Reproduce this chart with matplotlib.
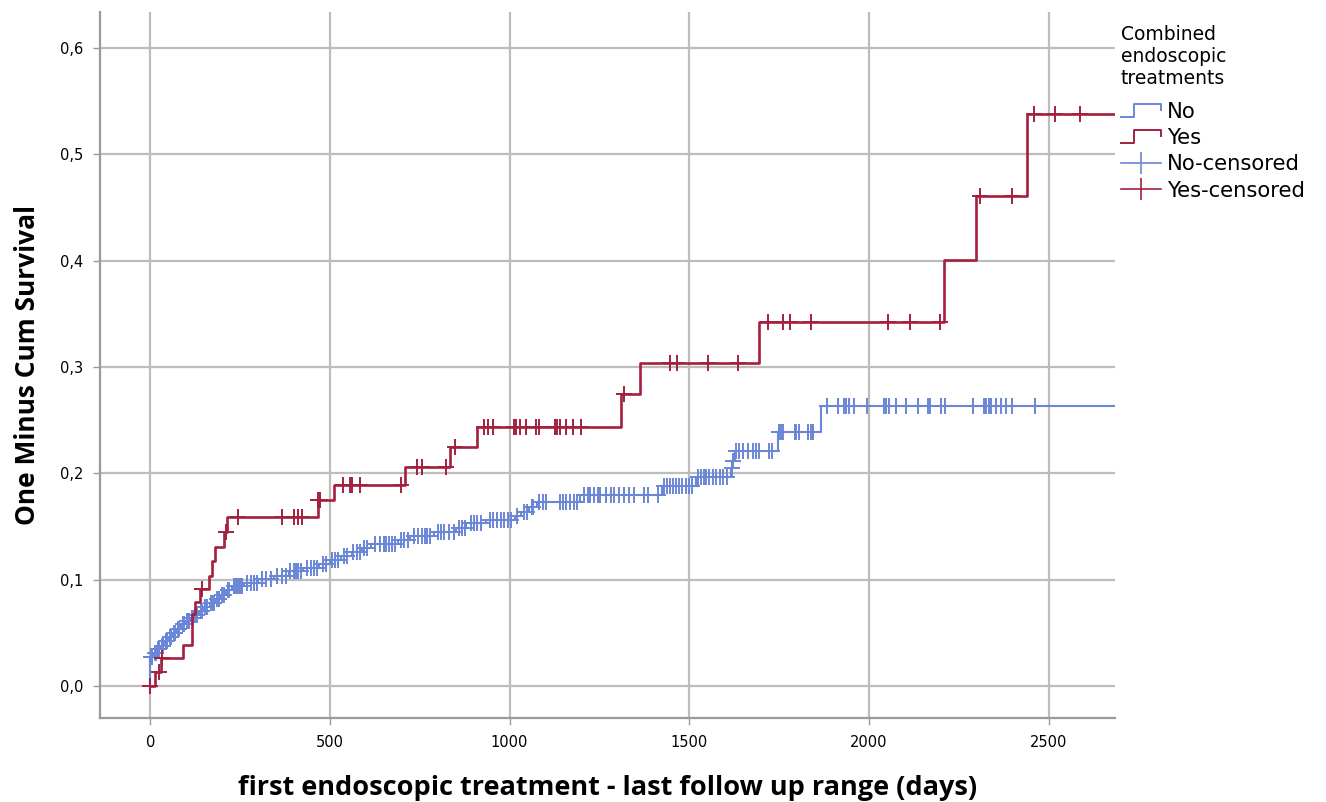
import matplotlib
matplotlib.use("Agg")
import matplotlib.pyplot as plt
from matplotlib.legend_handler import HandlerBase
from matplotlib.lines import Line2D
import numpy as np

BLUE = "#6a86d6"
RED = "#a3203e"
GRID = "#bdbdbd"

FOLLOW_UP_END = 2685

# "No" group: event days and cumulative incidence after each event
NO_EVENT_DAYS = [0, 8, 18, 28, 38, 50, 62, 74, 86, 98, 110, 122, 136, 150, 165,
                 180, 195, 210, 228, 262, 300, 345, 385, 425, 470, 500, 530, 560,
                 590, 615, 690, 722, 790, 850, 880, 935, 1015, 1032, 1055, 1075,
                 1195, 1425, 1518, 1616, 1620, 1626, 1746, 1866]
NO_LEVELS = [0.027, 0.031, 0.035, 0.038, 0.042, 0.046, 0.050, 0.054, 0.058, 0.061,
             0.064, 0.067, 0.071, 0.074, 0.078, 0.082, 0.086, 0.090, 0.094, 0.097,
             0.101, 0.104, 0.108, 0.111, 0.115, 0.119, 0.122, 0.126, 0.130, 0.134,
             0.137, 0.141, 0.145, 0.149, 0.153, 0.156, 0.160, 0.164, 0.168, 0.173,
             0.180, 0.188, 0.197, 0.205, 0.212, 0.221, 0.239, 0.263]
NO_CENSORED_DAYS = [
    2, 5, 12, 15, 22, 25, 33, 36, 44, 47, 55, 58, 66, 70, 77, 81, 90, 94, 103, 107,
    116, 120, 125, 130, 140, 144, 153, 158, 168, 172, 177, 185, 192, 200, 205, 215,
    220, 232, 238, 244, 250, 256, 270, 280, 288, 296, 310, 322, 335, 352, 366, 378,
    390, 399, 405, 412, 420, 437, 446, 455, 463, 480, 490, 505, 514, 522, 540, 548,
    565, 575, 585, 595, 604, 625, 640, 650, 657, 665, 672, 680, 697, 706, 716, 735,
    745, 755, 765, 771, 778, 800, 808, 818, 830, 845, 860, 868, 876, 892, 901, 910,
    920, 945, 955, 965, 975, 985, 995, 1005, 1022, 1040, 1048, 1062, 1066, 1083,
    1092, 1100, 1141, 1150, 1158, 1168, 1178, 1188, 1206, 1217, 1225, 1234, 1245,
    1253, 1267, 1281, 1290, 1304, 1318, 1332, 1346, 1374, 1385, 1413, 1430, 1438,
    1446, 1455, 1463, 1472, 1480, 1490, 1500, 1508, 1525, 1533, 1540, 1548, 1556,
    1565, 1575, 1585, 1595, 1605, 1618, 1623, 1630, 1638, 1649, 1663, 1677, 1685,
    1694, 1722, 1730, 1750, 1755, 1760, 1793, 1798, 1805, 1831, 1838, 1845, 1884,
    1913, 1930, 1937, 1946, 1958, 1995, 2041, 2048, 2057, 2076, 2102, 2138, 2165,
    2169, 2200, 2211, 2290, 2321, 2327, 2334, 2341, 2355, 2369, 2383, 2397, 2461]

# "Yes" group
YES_EVENT_DAYS = [13, 30, 92, 117, 125, 139, 162, 171, 181, 205, 213, 466, 512,
                  708, 833, 908, 1310, 1362, 1693, 2209, 2299, 2440]
YES_LEVELS = [0.013, 0.026, 0.039, 0.068, 0.079, 0.091, 0.104, 0.118, 0.131, 0.145,
              0.159, 0.175, 0.189, 0.206, 0.2245, 0.244, 0.275, 0.304, 0.342,
              0.401, 0.461, 0.538]
YES_CENSORED_DAYS = [0, 24, 32, 144, 211, 245, 367, 400, 411, 422, 467, 472, 537,
                     556, 561, 584, 697, 741, 755, 824, 847, 930, 939, 953, 1011,
                     1017, 1030, 1046, 1074, 1081, 1125, 1131, 1141, 1157, 1176,
                     1199, 1319, 1447, 1466, 1553, 1636, 1720, 1760, 1781, 1839,
                     2054, 2115, 2197, 2310, 2398, 2459, 2519, 2587]

X_TICKS = [0, 500, 1000, 1500, 2000, 2500]
Y_TICKS = [0.0, 0.1, 0.2, 0.3, 0.4, 0.5, 0.6]


def step_curve(days, levels):
    xs = [0] + list(days) + [FOLLOW_UP_END]
    ys = [0.0] + list(levels) + [levels[-1]]
    return xs, ys


def level_at(days, levels, t):
    idx = np.searchsorted(np.asarray(days), np.asarray(t), side="right")
    return np.concatenate([[0.0], levels])[idx]


class StepHandler(HandlerBase):
    def create_artists(self, legend, orig_handle, xdescent, ydescent,
                       width, height, fontsize, trans):
        x = np.array([0, 0.33, 0.33, 1.0, 1.0]) * width - xdescent
        y = np.array([0.05, 0.05, 0.95, 0.95, 0.55]) * height - ydescent
        line = Line2D(x, y, color=orig_handle.get_color(), lw=1.4)
        line.set_transform(trans)
        return [line]


fig = plt.figure(figsize=(13.26, 8.02), dpi=100)
ax = fig.add_axes([100 / 1326, 1 - 718 / 802, 1015 / 1326, 706 / 802])

for days, levels, cens, color, lw in [
        (NO_EVENT_DAYS, NO_LEVELS, NO_CENSORED_DAYS, BLUE, 1.5),
        (YES_EVENT_DAYS, YES_LEVELS, YES_CENSORED_DAYS, RED, 1.9)]:
    xs, ys = step_curve(days, levels)
    ax.step(xs, ys, where="post", color=color, lw=lw, zorder=3)
    ax.plot(cens, level_at(days, levels, cens), linestyle="none", marker="+",
            markersize=12, markeredgewidth=1.4, color=color, zorder=3)

ax.set_xlim(-140, FOLLOW_UP_END)
ax.set_ylim(-0.030, 0.634)
ax.set_xticks(X_TICKS)
ax.set_yticks(Y_TICKS)
ax.set_yticklabels([f"{v:.1f}".replace(".", ",") for v in Y_TICKS])
ax.tick_params(labelsize=10.5, length=5, width=1, color="#9a9a9a", pad=7)
ax.grid(True, color=GRID, lw=1.6, zorder=0)
ax.set_axisbelow(True)
for side in ("top", "right"):
    ax.spines[side].set_visible(False)
for side in ("left", "bottom"):
    ax.spines[side].set_color("#9a9a9a")
    ax.spines[side].set_linewidth(1.6)

ax.set_ylabel("One Minus Cum Survival", fontfamily="Open Sans", fontweight="bold",
              fontsize=19, labelpad=14)
ax.set_xlabel("first endoscopic treatment - last follow up range (days)",
              fontfamily="Open Sans", fontweight="bold", fontsize=19.5, labelpad=18)

h_no = Line2D([], [], color=BLUE)
h_yes = Line2D([], [], color=RED)
h_no_c = Line2D([], [], color=BLUE, lw=1.2, marker="|", markersize=16, markeredgewidth=1.2)
h_yes_c = Line2D([], [], color=RED, lw=1.2, marker="|", markersize=16, markeredgewidth=1.2)
leg = fig.legend([h_no, h_yes, h_no_c, h_yes_c], ["No", "Yes", "No-censored", "Yes-censored"],
                 loc="upper left", bbox_to_anchor=(1106 / 1326, 1 - 10 / 802),
                 frameon=False, fontsize=15.2, title="Combined\nendoscopic\ntreatments",
                 title_fontsize=13.5, alignment="left", handlelength=1.9,
                 handletextpad=0.3, labelspacing=0.3, borderpad=0.2, numpoints=1,
                 handler_map={h_no: StepHandler(), h_yes: StepHandler()})
leg._legend_box.sep = 10

fig.savefig("out.png", dpi=100)
